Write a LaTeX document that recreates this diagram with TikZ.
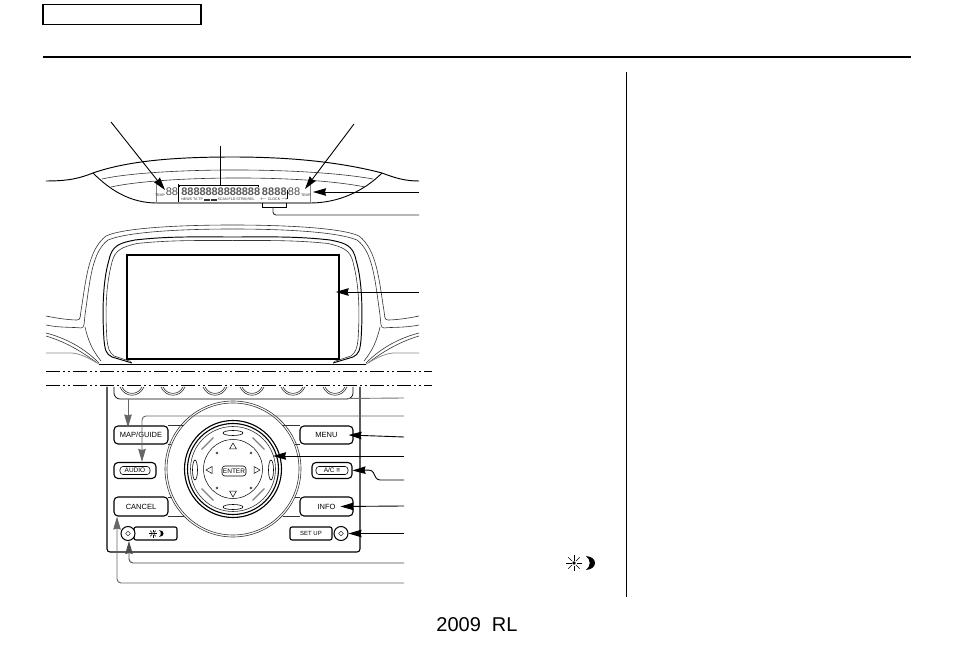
\documentclass[tikz,border=0pt]{standalone}
\usepackage{fontspec}
\setmainfont{Liberation Sans}
\usetikzlibrary{arrows.meta,shapes.geometric}
\tikzset{
  callout/.style={-{Stealth[length=13pt,width=7.5pt,inset=1pt]},line width=0.9pt,rounded corners=4pt},
  calloutgrey/.style={callout,draw=black!60},
  plainline/.style={line width=0.9pt,rounded corners=3pt},
  bezel/.style={line width=0.6pt,draw=black!80},
  bezelthick/.style={line width=0.95pt},
  breakline/.style={line width=1pt,dash pattern=on 14pt off 3pt on 2pt off 3pt on 2pt off 3pt},
  panelbutton/.style={draw,fill=white,line width=1.1pt,rounded corners=4pt,inner sep=0pt,font=\fontsize{7.5}{8}\selectfont},
  pillbutton/.style={panelbutton,line width=0.6pt,rounded corners=3pt,font=\fontsize{6.5}{7}\selectfont},
  roundbutton/.style={draw,fill=white,circle,line width=1pt,minimum size=14pt,inner sep=0pt},
  knobmark/.style={draw,diamond,inner sep=1.2pt,line width=0.4pt},
  dimdigit/.style={inner sep=0pt,text=black!70,font=\fontsize{11}{11}\selectfont},
  segdigit/.style={inner sep=0pt,text=black!65,font=\fontsize{11}{11}\bfseries\selectfont},
  tinytext/.style={inner sep=0pt,text=black!80,font=\fontsize{3.6}{4}\selectfont}
}
\newcommand{\sunmoon}[3]{% x, y, scale
  \begin{scope}[xshift=#1pt,yshift=-#2pt,scale=#3]
    \foreach \a in {0,45,...,315}
      \draw[line width=0.6pt] (\a:2.5) -- (\a:8);
    \fill (0,0) circle (1.8);
    \fill (12,-7) .. controls (24,-6) and (24,6) .. (12,7)
      .. controls (17,3) and (17,-3) .. (12,-7);
  \end{scope}}
\begin{document}
\begin{tikzpicture}[x=1pt,y=-1pt]
  \useasboundingbox (0,0) rectangle (954,652);
  % page furniture
  \node[draw,line width=1.6pt,minimum width=158pt,minimum height=20pt,inner sep=0pt] (tab) at (122,14.5) {};
  \coordinate (ruleL) at (43,57);
  \coordinate (ruleR) at (911,57);
  \draw[line width=1.5pt] (ruleL) -- (ruleR);
  \coordinate (colT) at (626.5,72);
  \coordinate (colB) at (626.5,597);
  \draw[line width=1pt] (colT) -- (colB);
  \node[inner sep=0pt,font=\fontsize{20}{20}\selectfont] (model) at (477,625) {2009\ \ RL};
  % upper display housing
  \draw[bezelthick] (46,181) .. controls (70,181) and (80,178) .. (93,173)
    .. controls (130,160) and (180,157) .. (233,157)
    .. controls (290,157) and (340,162) .. (382,173)
    .. controls (395,178) and (405,181) .. (419,181);
  \draw[line width=0.9pt] (93,173) .. controls (110,190) and (130,203) .. (157,203)
    -- (310,203) .. controls (340,203) and (365,190) .. (382,173);
  \draw[bezel] (102,179) .. controls (150,168) and (300,166) .. (373,179);
  \draw[bezel] (111,187) .. controls (160,176) and (300,174) .. (365,187);
  \draw[line width=0.5pt,draw=black!50] (156,181) -- (156,203);
  \draw[line width=0.5pt,draw=black!50] (310,181) -- (310,203);
  \draw[line width=1.2pt,draw=black!45] (157,203) -- (310,203);
  % display contents
  \node[tinytext] (tempL) at (160,195.5) {TEMP};
  \node[dimdigit] (tempLd) at (172,192) {88};
  \node[tinytext] (tempR) at (306,195.5) {TEMP};
  \node[dimdigit] (tempRd) at (294,192) {88};
  \foreach \n in {0,...,12}
    \node[segdigit] (seg\n) at ({184.5+6.05*\n},191.5) {8};
  \node[segdigit] (clockA) at (268,191.5) {88};
  \node[segdigit] (clockB) at (280.5,191.5) {88};
  \node[tinytext] (modes) at (218,199.5) {NEWS TA TP \textbf{\rule{6pt}{2pt}\,\rule{6pt}{2pt}} SCAN FLD STRM,REL};
  \node[tinytext] (clock) at (274,199.5) {$\leftarrow$ CLOCK $\rightarrow$};
  \draw[line width=0.6pt] (178.5,184) -- (178.5,202);
  \draw[line width=0.6pt] (287.5,190) -- (287.5,199);
  % brackets
  \coordinate (segL) at (179,187);
  \coordinate (segR) at (258,187);
  \coordinate (segTop) at (220,185);
  \draw[line width=0.8pt] (segL) -- (179,185) -- (258,185) -- (segR);
  \coordinate (clkL) at (262,203);
  \coordinate (clkR) at (286,203);
  \coordinate (clkBot) at (273,207);
  \draw[line width=0.8pt] (clkL) -- (262,207) -- (286,207) -- (clkR);
  % screen bezel, left then mirrored
  \foreach \m in {0,1}{
    \begin{scope}[xshift=\m*465pt,xscale=1-2*\m]
      \draw[bezel] (46,316) .. controls (60,319) and (72,320) .. (77,320)
        .. controls (81,320) and (80,316) .. (81,311)
        .. controls (86,280) and (88,250) .. (106,236)
        .. controls (125,227) and (190,225) .. (232.5,225);
      \draw[bezel] (46,325) .. controls (60,328) and (75,327) .. (81,328)
        .. controls (85,328) and (84,322) .. (85,315)
        .. controls (90,280) and (92,252) .. (108,240)
        .. controls (130,231) and (190,229) .. (232.5,229);
      \draw[bezel] (85,327) .. controls (88,340) and (92,350) .. (101,361);
      \draw[bezelthick] (132,363) -- (112,357) .. controls (106,354) and (105,350) .. (104,340)
        .. controls (102,310) and (103,280) .. (109,260)
        .. controls (112,245) and (120,243) .. (135,240)
        .. controls (170,236) and (200,237) .. (232.5,237);
      \draw[bezel] (131,361.5) -- (114,356) .. controls (109,352) and (108,348) .. (107,340)
        .. controls (105,310) and (106,285) .. (112,262)
        .. controls (115,250) and (122,247) .. (137,243.5)
        .. controls (170,240) and (200,240.5) .. (232.5,240.5);
      \draw[bezel] (46,333) .. controls (65,338) and (83,347) .. (99,363);
      \draw[bezel] (46,336) .. controls (63,341) and (80,350) .. (97,363);
      \draw[line width=0.8pt,draw=black!45] (46,353) -- (72,353) .. controls (82,354) and (90,359) .. (99,364);
    \end{scope}
  }
  \draw[line width=0.9pt] (99,364) -- (366,364);
  \node[draw,line width=1.3pt,minimum width=212pt,minimum height=104pt,inner sep=0pt] (screen) at (233,307) {};
  % break lines
  \coordinate (brkAL) at (46,371.5);
  \coordinate (brkAR) at (432,371.5);
  \coordinate (brkBL) at (46,385.5);
  \coordinate (brkBR) at (432,385.5);
  \draw[breakline] (brkAL) -- (brkAR);
  \draw[breakline,line width=1.4pt] (brkBL) -- (brkBR);
  % panel
  \draw[line width=1.1pt,rounded corners=3pt] (107,387) -- (107,552) -- (360,552) -- (360,387);
  \draw[line width=0.7pt,rounded corners=6pt] (114,387) -- (114,399) -- (353,399) -- (353,387);
  \foreach \k in {132,173,215,252,293,335}{
    \draw[bezel] (\k-10,387) .. controls (\k-6,395.5) and (\k+6,395.5) .. (\k+10,387);
    \draw[bezel] (\k-12,387) .. controls (\k-7,398) and (\k+7,398) .. (\k+12,387);
  }
  % dial
  \node[draw,circle,bezel,minimum size=136pt,inner sep=0pt] (dialOuter) at (233,469) {};
  \node[draw,circle,bezel,minimum size=132pt,inner sep=0pt] (dialOuterB) at (233,469) {};
  \node[draw,circle,line width=1.1pt,minimum size=97pt,inner sep=0pt] (ringA) at (233,469) {};
  \node[draw,circle,line width=1.1pt,minimum size=91pt,inner sep=0pt] (ringB) at (233,469) {};
  \node[draw,circle,bezel,minimum size=85pt,inner sep=0pt] (ringC) at (233,469) {};
  \node[draw,circle,line width=0.5pt,minimum size=59pt,inner sep=0pt] (dialDisc) at (233,469) {};
  \foreach \a in {45,135,225,315}
    \draw[line width=1.3pt,draw=black!50] ({233+37*cos(\a-13)},{469+37*sin(\a-13)}) -- ({233+37*cos(\a+13)},{469+37*sin(\a+13)});
  \foreach \px/\py/\rx/\ry in {233/433/10/2.5,233/507/10/2.5,195/470/2.5/10,271/470/2.5/10}
    \draw[line width=0.6pt] (\px,\py) ellipse ({\rx} and {\ry});
  \foreach \tx/\ty in {217/453,251/453,217/488,251/488}
    \draw[line width=0.4pt] (\tx,\ty) circle (1.2);
  \draw[line width=0.5pt] (233,443) -- (229.5,449) -- (236.5,449) -- cycle;
  \draw[line width=0.5pt] (233,497) -- (229.5,491) -- (236.5,491) -- cycle;
  \draw[line width=0.5pt] (206,470) -- (212,466.5) -- (212,473.5) -- cycle;
  \draw[line width=0.5pt] (260,470) -- (254,466.5) -- (254,473.5) -- cycle;
  \node[pillbutton,minimum width=24pt,minimum height=10pt] (enter) at (234,471) {ENTER};
  % links from side buttons to the dial
  \draw[bezel] (168,425) -- (184,425);
  \draw[bezel] (168,444) -- (171,444);
  \draw[bezel] (168,497) -- (172,497);
  \draw[bezel] (168,516) -- (184,516);
  \draw[bezel] (283,425) -- (300,425);
  \draw[bezel] (295,444) -- (300,444);
  \draw[bezel] (295,497) -- (300,497);
  \draw[bezel] (283,516) -- (300,516);
  % buttons
  \node[panelbutton,minimum width=54pt,minimum height=18pt] (mapguide) at (141,435) {MAP/GUIDE};
  \node[panelbutton,minimum width=42pt,minimum height=16pt] (audio) at (135,470.5) {};
  \node[pillbutton,minimum width=30pt,minimum height=8pt] (audiotxt) at (135,470.5) {AUDIO};
  \node[panelbutton,minimum width=54pt,minimum height=19pt] (cancel) at (141,506.5) {CANCEL};
  \node[panelbutton,minimum width=53pt,minimum height=18pt] (menu) at (326.5,435) {MENU};
  \node[panelbutton,minimum width=40pt,minimum height=16pt] (ac) at (332,470.5) {};
  \node[pillbutton,minimum width=32pt,minimum height=8pt] (actxt) at (332,470.5) {A/C ≡};
  \node[panelbutton,minimum width=53pt,minimum height=19pt] (info) at (326.5,506.5) {INFO};
  \node[panelbutton,minimum width=43pt,minimum height=13pt,rounded corners=2pt] (bright) at (155.5,533.5) {};
  \sunmoon{153}{533.5}{0.5}
  \node[panelbutton,minimum width=42pt,minimum height=13pt,rounded corners=2pt,font=\fontsize{6}{7}\selectfont] (setup) at (311,533.5) {SET UP};
  \node[roundbutton] (knobL) at (128,533.5) {};
  \node[knobmark] (markL) at (128,533.5) {};
  \node[roundbutton] (knobR) at (341,533.5) {};
  \node[knobmark] (markR) at (341,533.5) {};
  % free ends of the callouts
  \coordinate (endTemp) at (111,122);
  \coordinate (endText) at (220,146);
  \coordinate (endOut) at (354,124);
  \coordinate (tipTemp) at (165,190);
  \coordinate (tipOut) at (305,189);
  \coordinate (endDisp) at (419,192);
  \coordinate (tipDisp) at (313,192);
  \coordinate (endClock) at (419,215);
  \coordinate (endScreen) at (419,292);
  \coordinate (endKnobs) at (404,398);
  \coordinate (endMap) at (128,399);
  \coordinate (endAudio) at (404,416);
  \coordinate (endMenu) at (404,437);
  \coordinate (endDial) at (404,456);
  \coordinate (endAc) at (404,480);
  \coordinate (endInfo) at (404,506);
  \coordinate (endSetup) at (404,533.5);
  \coordinate (endBright) at (404,563);
  \coordinate (endCancel) at (404,583);
  \draw[callout] (endTemp) -- (tipTemp);
  \draw[line width=0.9pt] (endText) -- (segTop);
  \draw[callout] (endOut) -- (tipOut);
  \draw[callout] (endDisp) -- (tipDisp);
  \draw[plainline,draw=black!80] (clkBot) |- (endClock);
  \draw[callout] (endScreen) -- ([xshift=-4pt]screen.east |- endScreen);
  \draw[plainline,draw=black!55] (endKnobs) -- (347,398.5);
  \draw[calloutgrey] (endMap) -- ([yshift=-2pt]endMap |- mapguide.north);
  \draw[calloutgrey] (endAudio) -| ([xshift=7pt]audio.north);
  \draw[callout] (endMenu) -- ([xshift=-5pt]menu.east);
  \draw[callout] (endDial) -- ([xshift=-9pt,yshift=13pt]ringA.east);
  \draw[callout,rounded corners=3pt] (endAc) -- (377,480) -- (372,470) -- (ac.east);
  \draw[callout] (endInfo) -- ([xshift=-13pt]info.east);
  \draw[callout] (endSetup) -- (knobR.east);
  \draw[calloutgrey,draw=black!70] (endBright) -| ([xshift=1pt]knobL.south);
  \draw[calloutgrey] (endCancel) -| ([xshift=-24pt]cancel.south);
  % legend symbol
  \sunmoon{574}{563}{1}
\end{tikzpicture}
\end{document}
